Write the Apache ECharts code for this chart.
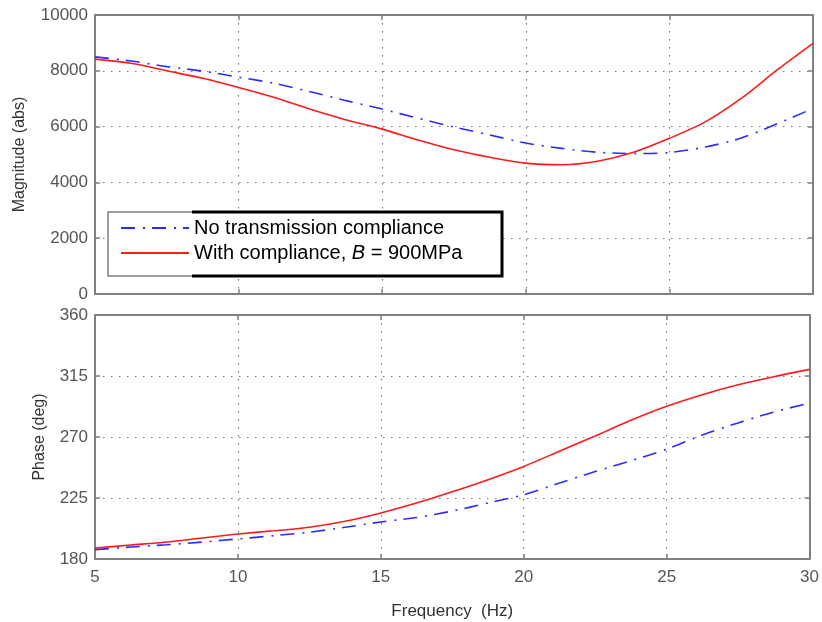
<!DOCTYPE html>
<html>
<head>
<meta charset="utf-8">
<script src="https://cdn.jsdelivr.net/npm/echarts@6/dist/echarts.min.js"></script>
<style>html,body{margin:0;padding:0;background:#fff}#c{width:822px;height:622px}</style>
</head>
<body>
<div id="c"></div>
<script>
var freq = [5, 6.25, 7.5, 8.75, 10, 11.25, 12.5, 13.75, 15, 16.25, 17.5, 18.75, 20, 21.25, 22.5, 23.75, 25, 26.25, 27.5, 28.75, 30];
var magNoComp = [8500, 8350, 8150, 7990, 7770, 7550, 7250, 6930, 6630, 6300, 5985, 5700, 5410, 5220, 5080, 5035, 5070, 5270, 5590, 6100, 6650];
var magComp = [8420, 8270, 8000, 7730, 7400, 7040, 6620, 6240, 5910, 5520, 5170, 4900, 4690, 4635, 4760, 5080, 5580, 6170, 7010, 8030, 8985];
var phaseNoComp = [186.9, 188.8, 190.5, 192.5, 194.8, 197.2, 199.8, 203.4, 207.3, 210.6, 215.4, 221.3, 227.4, 236.0, 244.5, 252.5, 261.0, 271.5, 280.4, 288.4, 295.0];
var phaseComp = [188.1, 190.3, 192.5, 195.5, 198.4, 200.8, 203.4, 207.8, 214.0, 221.3, 229.6, 238.5, 248.3, 259.5, 270.8, 282.3, 292.6, 301.2, 308.5, 314.5, 319.9];
var magTicks = [0, 2000, 4000, 6000, 8000, 10000];
var phaseTicks = [180, 225, 270, 315, 360];
var freqTicks = [5, 10, 15, 20, 25, 30];
var seriesNames = ['No transmission compliance', 'With compliance, B = 900MPa'];

function pairs(xs, ys) { return xs.map(function (x, i) { return [x, ys[i]]; }); }

var boxColor = '#808080';
var gridLine = { show: true, lineStyle: { color: '#7a7a7a', width: 1.2, type: [1.5, 6.5] } };
var font = 'Liberation Sans, Arial, sans-serif';
var tickLbl = { color: '#555', fontSize: 17, fontFamily: font, formatter: function (v) { return String(v); } };

function xAx(grid, opts) {
  return Object.assign({
    type: 'value', gridIndex: grid, min: freqTicks[0], max: freqTicks[freqTicks.length - 1], interval: 5,
    axisLine: { show: true, onZero: false, lineStyle: { color: boxColor, width: 2 } },
    axisTick: { show: true, inside: true, length: 5, lineStyle: { color: boxColor, width: 1.5 } },
    axisLabel: { show: false },
    splitLine: { show: false }
  }, opts);
}
function yAx(grid, lo, hi, step, opts) {
  return Object.assign({
    type: 'value', gridIndex: grid, min: lo, max: hi, interval: step,
    axisLine: { show: true, onZero: false, lineStyle: { color: boxColor, width: 2 } },
    axisTick: { show: true, inside: true, length: 5, lineStyle: { color: boxColor, width: 1.5 } },
    axisLabel: { show: false },
    splitLine: { show: false }
  }, opts);
}

var option = {
  animation: false,
  backgroundColor: '#fff',
  grid: [
    { left: 95, right: 9, top: 15, height: 279 },
    { left: 95, right: 9, top: 315, height: 244 }
  ],
  xAxis: [
    xAx(0, { position: 'bottom', splitLine: gridLine }),
    xAx(0, { position: 'top' }),
    xAx(1, { position: 'bottom', splitLine: gridLine,
      axisLabel: Object.assign({ show: true, margin: 10 }, tickLbl),
      name: 'Frequency  (Hz)', nameLocation: 'middle', nameGap: 44,
      nameTextStyle: { color: '#333', fontSize: 17, fontFamily: font } }),
    xAx(1, { position: 'top' })
  ],
  yAxis: [
    yAx(0, magTicks[0], magTicks[magTicks.length - 1], 2000, { position: 'left', splitLine: gridLine,
      axisLabel: Object.assign({ show: true, margin: 7 }, tickLbl),
      name: 'Magnitude (abs)', nameLocation: 'middle', nameGap: 67,
      nameTextStyle: { color: '#333', fontSize: 16, fontFamily: font } }),
    yAx(0, magTicks[0], magTicks[magTicks.length - 1], 2000, { position: 'right' }),
    yAx(1, phaseTicks[0], phaseTicks[phaseTicks.length - 1], 45, { position: 'left', splitLine: gridLine,
      axisLabel: Object.assign({ show: true, margin: 7 }, tickLbl),
      name: 'Phase (deg)', nameLocation: 'middle', nameGap: 47,
      nameTextStyle: { color: '#333', fontSize: 16, fontFamily: font } }),
    yAx(1, phaseTicks[0], phaseTicks[phaseTicks.length - 1], 45, { position: 'right' })
  ],
  legend: {
    show: true, orient: 'vertical', left: 108, top: 212, z: 10,
    padding: [4, 24, 4, 12], itemGap: 1, itemWidth: 68, itemHeight: 14,
    itemStyle: { opacity: 0 },
    data: seriesNames,
    textStyle: { color: '#000', fontSize: 20, fontFamily: font, lineHeight: 24,
      rich: { n: { fontSize: 20, fontFamily: font, color: '#000' }, i: { fontSize: 20, fontFamily: font, fontStyle: 'italic', color: '#000' } } },
    formatter: function (name) {
      if (name === seriesNames[1]) return '{n|With compliance, }{i|B}{n| = 900MPa}';
      return name;
    }
  },
  graphic: [
    { type: 'rect', z: 3, shape: { x: 108, y: 212, width: 394, height: 64 },
      style: { fill: '#fff', stroke: '#808080', lineWidth: 1.5 } },
    { type: 'polyline', z: 4, shape: { points: [[192, 212], [502, 212], [502, 276], [192, 276]] },
      style: { fill: null, stroke: '#000', lineWidth: 3 } }
  ],
  series: [
    { name: seriesNames[0], type: 'line', xAxisIndex: 0, yAxisIndex: 0, data: pairs(freq, magNoComp),
      smooth: 0.3, symbol: 'none', lineStyle: { color: '#2b2bff', width: 1.6, type: [14, 8, 2, 7] }, itemStyle: { color: '#2b2bff' } },
    { name: seriesNames[1], type: 'line', xAxisIndex: 0, yAxisIndex: 0, data: pairs(freq, magComp),
      smooth: 0.3, symbol: 'none', lineStyle: { color: '#ff1a1a', width: 1.6 }, itemStyle: { color: '#ff1a1a' } },
    { name: seriesNames[0], type: 'line', xAxisIndex: 2, yAxisIndex: 2, data: pairs(freq, phaseNoComp),
      smooth: 0.3, symbol: 'none', lineStyle: { color: '#2b2bff', width: 1.6, type: [14, 8, 2, 7] }, itemStyle: { color: '#2b2bff' } },
    { name: seriesNames[1], type: 'line', xAxisIndex: 2, yAxisIndex: 2, data: pairs(freq, phaseComp),
      smooth: 0.3, symbol: 'none', lineStyle: { color: '#ff1a1a', width: 1.6 }, itemStyle: { color: '#ff1a1a' } }
  ]
};
var chart = echarts.init(document.getElementById('c'), null, { renderer: 'canvas' });
chart.setOption(option);
</script>
</body>
</html>
